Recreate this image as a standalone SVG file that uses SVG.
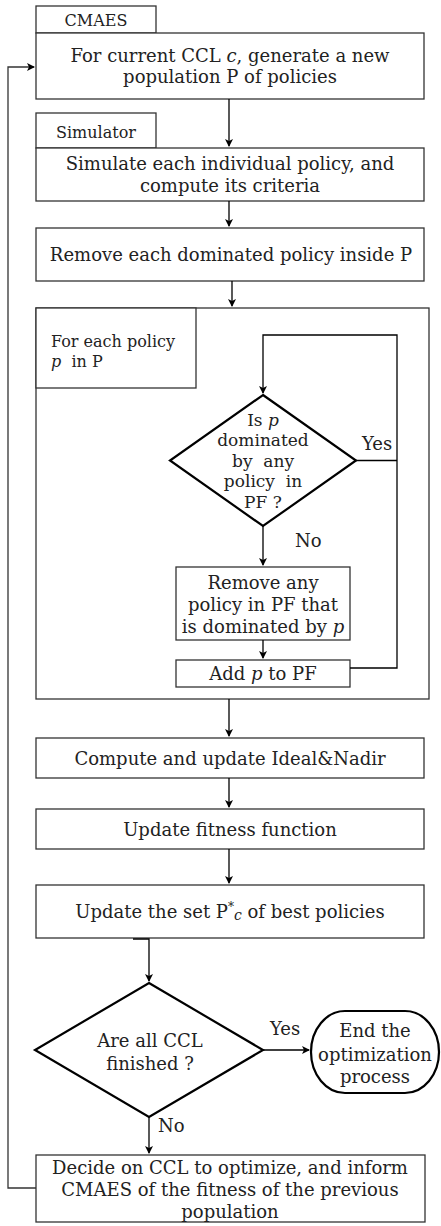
<svg xmlns="http://www.w3.org/2000/svg" width="441" height="1226" viewBox="0 0 441 1226">
<style>
text{font-family:"DejaVu Serif","Liberation Serif",serif;font-size:18px;fill:#222}
.c{text-anchor:middle}
.sm{font-size:16px}
.d{font-size:17px}
.box{fill:#fff;stroke:#333;stroke-width:1.3}
.dia{fill:#fff;stroke:#000;stroke-width:2.2}
.e{fill:none;stroke:#000;stroke-width:1.3}
.l{fill:none;stroke:#333;stroke-width:1.3}
</style>
<defs>
<marker id="a" markerWidth="10" markerHeight="10" refX="8" refY="5" orient="auto" markerUnits="userSpaceOnUse">
<path d="M1,1 L9,5 L1,9 L3,5 Z" fill="#000"/>
</marker>
</defs>
<g id="cmaes-tab"><rect class="box" x="36" y="6" width="120" height="27"/><text class="c sm" x="96" y="26">CMAES</text></g>
<g id="generate"><rect class="box" x="36" y="33" width="388" height="66"/>
<text class="c" x="230" y="62">For current CCL <tspan font-style="italic">c</tspan>, generate a new</text>
<text class="c" x="230" y="83">population P of policies</text></g>
<g id="sim-tab"><rect class="box" x="36" y="113" width="120" height="35"/><text class="c sm" x="96" y="138">Simulator</text></g>
<g id="simulate"><rect class="box" x="36" y="148" width="388" height="53"/>
<text class="c" x="230" y="170">Simulate each individual policy, and</text>
<text class="c" x="230" y="192">compute its criteria</text></g>
<g id="remove-dom"><rect class="box" x="36" y="228" width="388" height="53"/>
<text class="c" x="231" y="261">Remove each dominated policy inside P</text></g>
<g id="loop"><rect class="box" x="36" y="308" width="393" height="391"/>
<rect class="box" x="36" y="308" width="160" height="80"/>
<text x="51" y="347" class="sm">For each policy</text>
<text x="51" y="367" class="sm"><tspan font-style="italic">p</tspan>&#160; in P</text></g>
<g id="is-dominated"><polygon class="dia" points="263,395 356,460.5 263,526 170,460.5"/>
<text class="c d" x="263" y="426">Is <tspan font-style="italic">p</tspan></text>
<text class="c d" x="263" y="446">dominated</text>
<text class="c d" x="263" y="467">by&#160; any</text>
<text class="c d" x="263" y="487">policy&#160; in</text>
<text class="c d" x="263" y="508">PF ?</text></g>
<text x="362" y="450">Yes</text>
<text x="295" y="547">No</text>
<g id="remove-any"><rect class="box" x="176" y="567" width="174" height="73"/>
<text class="c" x="263" y="589">Remove any</text>
<text class="c" x="263" y="611">policy in PF that</text>
<text class="c" x="263" y="633">is dominated by <tspan font-style="italic">p</tspan></text></g>
<g id="add"><rect class="box" x="176" y="660" width="174" height="27"/>
<text class="c" x="263" y="680">Add <tspan font-style="italic">p</tspan> to PF</text></g>
<g id="ideal"><rect class="box" x="36" y="738" width="388" height="40"/>
<text class="c" x="230" y="765">Compute and update Ideal&amp;Nadir</text></g>
<g id="fitness"><rect class="box" x="36" y="809" width="388" height="40"/>
<text class="c" x="230" y="836">Update fitness function</text></g>
<g id="best"><rect class="box" x="36" y="885" width="388" height="53"/>
<text class="c" x="230" y="918">Update the set P<tspan dy="-7" font-size="12">*</tspan><tspan dy="9" font-style="italic" font-size="14">c</tspan><tspan dy="-2"> of best policies</tspan></text></g>
<g id="all-finished"><polygon class="dia" points="149,983 263,1050 149,1117 35,1050"/>
<text class="c" x="150" y="1047">Are all CCL</text>
<text class="c" x="150" y="1070">finished ?</text></g>
<text x="270" y="1035">Yes</text>
<text x="158" y="1132">No</text>
<g id="end"><rect x="311" y="1011" width="128" height="82" rx="34" ry="41" fill="#fff" stroke="#000" stroke-width="2.2"/>
<text class="c" x="375" y="1037">End the</text>
<text class="c" x="375" y="1061">optimization</text>
<text class="c" x="375" y="1083">process</text></g>
<g id="decide"><rect class="box" x="36" y="1155" width="389" height="67"/>
<text class="c" x="230" y="1174">Decide on CCL to optimize, and inform</text>
<text class="c" x="230" y="1196">CMAES of the fitness of the previous</text>
<text class="c" x="230" y="1218">population</text></g>
<g id="connectors">
<path class="e" d="M229,99 V146" marker-end="url(#a)"/>
<path class="e" d="M229,201 V226" marker-end="url(#a)"/>
<path class="e" d="M232,281 V306" marker-end="url(#a)"/>
<path class="e" d="M263,526 V565" marker-end="url(#a)"/>
<path class="e" d="M263,640 V658" marker-end="url(#a)"/>
<path class="e" d="M350,668 H397 V335 H263 V393" marker-end="url(#a)"/>
<path class="e" d="M356,460.5 H397"/>
<path class="e" d="M229,699 V736" marker-end="url(#a)"/>
<path class="e" d="M229,778 V807" marker-end="url(#a)"/>
<path class="e" d="M229,849 V883" marker-end="url(#a)"/>
<path class="e" d="M133,939 H149 V981" marker-end="url(#a)"/>
<path class="e" d="M263,1050 H309" marker-end="url(#a)"/>
<path class="e" d="M149,1117 V1153" marker-end="url(#a)"/>
<path class="l" d="M36,1188 H8 V67 H34" marker-end="url(#a)"/>
</g>
</svg>
